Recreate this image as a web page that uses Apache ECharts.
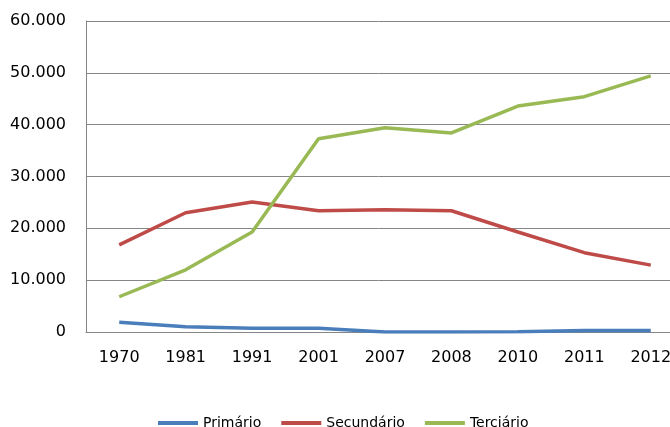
<!DOCTYPE html>
<html>
<head>
<meta charset="utf-8">
<script src="https://cdn.jsdelivr.net/npm/echarts@6/dist/echarts.min.js"></script>
<style>
html, body { margin: 0; padding: 0; background: #fff; }
#chart { width: 670px; height: 427px; }
</style>
</head>
<body>
<div id="chart"></div>
<script>
var anos = ['1970', '1981', '1991', '2001', '2007', '2008', '2010', '2011', '2012'];
var primario = [1900, 1000, 700, 700, 0, 0, 50, 300, 300];
var secundario = [16800, 23000, 25100, 23400, 23600, 23400, 19300, 15300, 12900];
var terciario = [6800, 12000, 19300, 37300, 39400, 38400, 43600, 45400, 49400];

var chart = echarts.init(document.getElementById('chart'));

function fmt(v) {
  if (v === 0) return '0';
  return (v / 1000).toFixed(0) + '.000';
}

var option = {
  animation: false,
  grid: { left: 86, top: 21, width: 598, height: 311, outerBoundsMode: 'none' },
  legend: {
    top: 415,
    left: 158,
    padding: 0,
    itemWidth: 40,
    itemHeight: 4,
    itemGap: 20,
    icon: 'rect',
    itemStyle: { borderWidth: 0 },
    textStyle: { fontFamily: 'DejaVu Sans', fontSize: 14, color: '#000', lineHeight: 16 },
    data: ['Primário', 'Secundário', 'Terciário']
  },
  xAxis: {
    type: 'category',
    data: anos,
    boundaryGap: true,
    axisLine: { lineStyle: { color: '#868686', width: 1 } },
    axisTick: { show: false },
    axisLabel: { fontFamily: 'DejaVu Sans', fontSize: 16, color: '#000', margin: 18 }
  },
  yAxis: {
    type: 'value',
    min: 0,
    max: 60000,
    interval: 10000,
    axisLine: { show: true, lineStyle: { color: '#868686' } },
    axisTick: { show: false },
    splitLine: { lineStyle: { color: '#868686' } },
    axisLabel: { formatter: fmt, fontFamily: 'DejaVu Sans', fontSize: 16, color: '#000', margin: 20 }
  },
  series: [
    {
      name: 'Primário', type: 'line', data: primario, symbol: 'none',
      lineStyle: { width: 3.5, color: '#4A7EBB' }, itemStyle: { color: '#4A7EBB' }
    },
    {
      name: 'Secundário', type: 'line', data: secundario, symbol: 'none',
      lineStyle: { width: 3.5, color: '#BE4B48' }, itemStyle: { color: '#BE4B48' }
    },
    {
      name: 'Terciário', type: 'line', data: terciario, symbol: 'none',
      lineStyle: { width: 3.5, color: '#98B954' }, itemStyle: { color: '#98B954' }
    }
  ]
};

chart.setOption(option);
</script>
</body>
</html>
